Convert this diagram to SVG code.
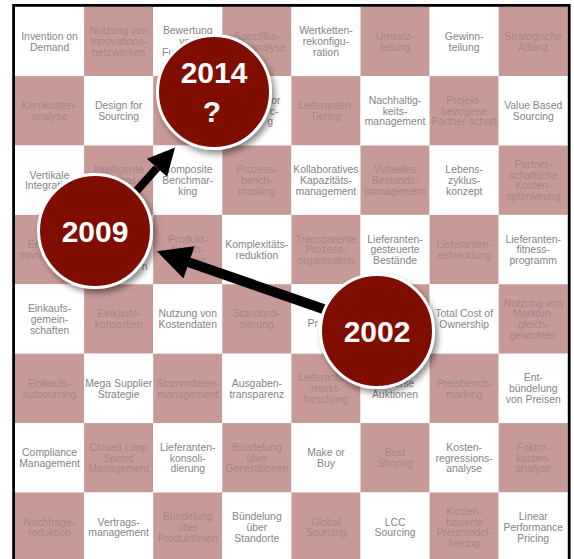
<svg xmlns="http://www.w3.org/2000/svg" width="574" height="559" viewBox="0 0 574 559">
<style>
.w{fill:#ffffff}
.p{fill:#C89A97}
text{font-family:"Liberation Sans",Arial,sans-serif;font-size:10.4px;text-anchor:middle}
.tw{fill:#858585}
.tp{fill:#A48684}
.yr{font-family:"Liberation Sans",Arial,sans-serif;font-weight:bold;font-size:30px;fill:#ffffff;text-anchor:middle}
.disc{fill:#7F0B02;stroke:#ffffff;stroke-width:3}
.arr{stroke:#000;fill:none;stroke-linecap:butt}
</style>
<defs>
<marker id="head" viewBox="0 0 10 10" refX="0" refY="5" markerWidth="3.8" markerHeight="3.4" orient="auto" markerUnits="strokeWidth">
<path d="M0,0 L10,5 L0,10 Z" fill="#000"/>
</marker>
<filter id="sh" x="-30%" y="-30%" width="170%" height="170%">
<feDropShadow dx="3" dy="4" stdDeviation="3" flood-color="#000" flood-opacity="0.45"/>
</filter>
</defs>
<rect x="0" y="0" width="574" height="559" fill="#ffffff"/>
<g id="grid">
<!-- row 0 -->
<g id="r0c0"><rect class="w" x="15" y="6.7" width="69.1" height="69.4"/><text class="tw" x="49.55" y="39.7">Invention on<tspan x="49.55" dy="10.8">Demand</tspan></text></g>
<g id="r0c1"><rect class="p" x="84.1" y="6.7" width="69.1" height="69.4"/><text class="tp" x="118.65" y="34.3">Nutzung von<tspan x="118.65" dy="10.8">Innovations-</tspan><tspan x="118.65" dy="10.8">netzwerken</tspan></text></g>
<g id="r0c2"><rect class="w" x="153.2" y="6.7" width="69.1" height="69.4"/><text class="tw" x="187.75" y="34.3">Bewertung<tspan x="187.75" dy="10.8">von</tspan><tspan x="187.75" dy="10.8">Funktionen</tspan></text></g>
<g id="r0c3"><rect class="p" x="222.3" y="6.7" width="69.1" height="69.4"/><text class="tp" x="256.85" y="39.7">Spezifika-<tspan x="256.85" dy="10.8">tionsanalyse</tspan></text></g>
<g id="r0c4"><rect class="w" x="291.4" y="6.7" width="69.1" height="69.4"/><text class="tw" x="325.95" y="34.3">Wertketten-<tspan x="325.95" dy="10.8">rekonfigu-</tspan><tspan x="325.95" dy="10.8">ration</tspan></text></g>
<g id="r0c5"><rect class="p" x="360.5" y="6.7" width="69.1" height="69.4"/><text class="tp" x="395.05" y="39.7">Umsatz-<tspan x="395.05" dy="10.8">teilung</tspan></text></g>
<g id="r0c6"><rect class="w" x="429.6" y="6.7" width="69.1" height="69.4"/><text class="tw" x="464.15" y="39.7">Gewinn-<tspan x="464.15" dy="10.8">teilung</tspan></text></g>
<g id="r0c7"><rect class="p" x="498.7" y="6.7" width="69.1" height="69.4"/><text class="tp" x="533.25" y="39.7">Strategische<tspan x="533.25" dy="10.8">Allianz</tspan></text></g>
<!-- row 1 -->
<g id="r1c0"><rect class="p" x="15" y="76.1" width="69.1" height="69.4"/><text class="tp" x="49.55" y="109.1">Kernkosten-<tspan x="49.55" dy="10.8">analyse</tspan></text></g>
<g id="r1c1"><rect class="w" x="84.1" y="76.1" width="69.1" height="69.4"/><text class="tw" x="118.65" y="109.1">Design for<tspan x="118.65" dy="10.8">Sourcing</tspan></text></g>
<g id="r1c2"><rect class="p" x="153.2" y="76.1" width="69.1" height="69.4"/></g>
<g id="r1c3"><rect class="w" x="222.3" y="76.1" width="69.1" height="69.4"/><text class="tw" style="text-anchor:end" x="280.5" y="103.7">or<tspan x="278.5" dy="10.8">c-</tspan><tspan x="273" dy="10.8">g</tspan></text></g>
<g id="r1c4"><rect class="p" x="291.4" y="76.1" width="69.1" height="69.4"/><text class="tp" x="325.95" y="109.1">Lieferanten-<tspan x="325.95" dy="10.8">Tiering</tspan></text></g>
<g id="r1c5"><rect class="w" x="360.5" y="76.1" width="69.1" height="69.4"/><text class="tw" x="395.05" y="103.7">Nachhaltig-<tspan x="395.05" dy="10.8">keits-</tspan><tspan x="395.05" dy="10.8">management</tspan></text></g>
<g id="r1c6"><rect class="p" x="429.6" y="76.1" width="69.1" height="69.4"/><text class="tp" x="464.15" y="103.7">Projekt-<tspan x="464.15" dy="10.8">bezogene</tspan><tspan x="464.15" dy="10.8">Partner-schaft</tspan></text></g>
<g id="r1c7"><rect class="w" x="498.7" y="76.1" width="69.1" height="69.4"/><text class="tw" x="533.25" y="109.1">Value Based<tspan x="533.25" dy="10.8">Sourcing</tspan></text></g>
<!-- row 2 -->
<g id="r2c0"><rect class="w" x="15" y="145.5" width="69.1" height="69.4"/><text class="tw" x="49.55" y="178.5">Vertikale<tspan x="49.55" dy="10.8">Integration</tspan></text></g>
<g id="r2c1"><rect class="p" x="84.1" y="145.5" width="69.1" height="69.4"/><text class="tp" x="118.65" y="173.1">Intelligente<tspan x="118.65" dy="10.8">Vertrags-</tspan><tspan x="118.65" dy="10.8">gestaltung</tspan></text></g>
<g id="r2c2"><rect class="w" x="153.2" y="145.5" width="69.1" height="69.4"/><text class="tw" x="187.75" y="173.1">Composite<tspan x="187.75" dy="10.8">Benchmar-</tspan><tspan x="187.75" dy="10.8">king</tspan></text></g>
<g id="r2c3"><rect class="p" x="222.3" y="145.5" width="69.1" height="69.4"/><text class="tp" x="256.85" y="173.1">Prozess-<tspan x="256.85" dy="10.8">bench-</tspan><tspan x="256.85" dy="10.8">marking</tspan></text></g>
<g id="r2c4"><rect class="w" x="291.4" y="145.5" width="69.1" height="69.4"/><text class="tw" x="325.95" y="173.1">Kollaboratives<tspan x="325.95" dy="10.8">Kapazitäts-</tspan><tspan x="325.95" dy="10.8">management</tspan></text></g>
<g id="r2c5"><rect class="p" x="360.5" y="145.5" width="69.1" height="69.4"/><text class="tp" x="395.05" y="173.1">Virtuelles<tspan x="395.05" dy="10.8">Bestands-</tspan><tspan x="395.05" dy="10.8">management</tspan></text></g>
<g id="r2c6"><rect class="w" x="429.6" y="145.5" width="69.1" height="69.4"/><text class="tw" x="464.15" y="173.1">Lebens-<tspan x="464.15" dy="10.8">zyklus-</tspan><tspan x="464.15" dy="10.8">konzept</tspan></text></g>
<g id="r2c7"><rect class="p" x="498.7" y="145.5" width="69.1" height="69.4"/><text class="tp" x="533.25" y="167.7">Partner-<tspan x="533.25" dy="10.8">schaftliche</tspan><tspan x="533.25" dy="10.8">Kosten-</tspan><tspan x="533.25" dy="10.8">optimierung</tspan></text></g>
<!-- row 3 -->
<g id="r3c0"><rect class="p" x="15" y="214.9" width="69.1" height="69.4"/><text class="tp" x="49.55" y="247.9">Engpass-<tspan x="49.55" dy="10.8">management</tspan></text></g>
<g id="r3c1"><rect class="w" x="84.1" y="214.9" width="69.1" height="69.4"/><text class="tw" style="text-anchor:end" x="147.5" y="270">n</text></g>
<g id="r3c2"><rect class="p" x="153.2" y="214.9" width="69.1" height="69.4"/><text class="tp" x="187.75" y="242.5">Produkt-<tspan x="187.75" dy="10.8">bench-</tspan><tspan x="187.75" dy="10.8">marking</tspan></text></g>
<g id="r3c3"><rect class="w" x="222.3" y="214.9" width="69.1" height="69.4"/><text class="tw" x="256.85" y="247.9">Komplexitäts-<tspan x="256.85" dy="10.8">reduktion</tspan></text></g>
<g id="r3c4"><rect class="p" x="291.4" y="214.9" width="69.1" height="69.4"/><text class="tp" x="325.95" y="242.5">Transparente<tspan x="325.95" dy="10.8">Prozess-</tspan><tspan x="325.95" dy="10.8">organisation</tspan></text></g>
<g id="r3c5"><rect class="w" x="360.5" y="214.9" width="69.1" height="69.4"/><text class="tw" x="395.05" y="242.5">Lieferanten-<tspan x="395.05" dy="10.8">gesteuerte</tspan><tspan x="395.05" dy="10.8">Bestände</tspan></text></g>
<g id="r3c6"><rect class="p" x="429.6" y="214.9" width="69.1" height="69.4"/><text class="tp" x="464.15" y="247.9">Lieferanten-<tspan x="464.15" dy="10.8">entwicklung</tspan></text></g>
<g id="r3c7"><rect class="w" x="498.7" y="214.9" width="69.1" height="69.4"/><text class="tw" x="533.25" y="242.5">Lieferanten-<tspan x="533.25" dy="10.8">fitness-</tspan><tspan x="533.25" dy="10.8">programm</tspan></text></g>
<!-- row 4 -->
<g id="r4c0"><rect class="w" x="15" y="284.3" width="69.1" height="69.4"/><text class="tw" x="49.55" y="311.9">Einkaufs-<tspan x="49.55" dy="10.8">gemein-</tspan><tspan x="49.55" dy="10.8">schaften</tspan></text></g>
<g id="r4c1"><rect class="p" x="84.1" y="284.3" width="69.1" height="69.4"/><text class="tp" x="118.65" y="317.3">Einkaufs-<tspan x="118.65" dy="10.8">konsortien</tspan></text></g>
<g id="r4c2"><rect class="w" x="153.2" y="284.3" width="69.1" height="69.4"/><text class="tw" x="187.75" y="317.3">Nutzung von<tspan x="187.75" dy="10.8">Kostendaten</tspan></text></g>
<g id="r4c3"><rect class="p" x="222.3" y="284.3" width="69.1" height="69.4"/><text class="tp" x="256.85" y="317.3">Standardi-<tspan x="256.85" dy="10.8">sierung</tspan></text></g>
<g id="r4c4"><rect class="w" x="291.4" y="284.3" width="69.1" height="69.4"/><text class="tw" style="text-anchor:start" x="307.5" y="327">Pr</text></g>
<g id="r4c5"><rect class="p" x="360.5" y="284.3" width="69.1" height="69.4"/></g>
<g id="r4c6"><rect class="w" x="429.6" y="284.3" width="69.1" height="69.4"/><text class="tw" x="464.15" y="317.3">Total Cost of<tspan x="464.15" dy="10.8">Ownership</tspan></text></g>
<g id="r4c7"><rect class="p" x="498.7" y="284.3" width="69.1" height="69.4"/><text class="tp" x="533.25" y="306.5">Nutzung von<tspan x="533.25" dy="10.8">Marktun-</tspan><tspan x="533.25" dy="10.8">gleich-</tspan><tspan x="533.25" dy="10.8">gewichten</tspan></text></g>
<!-- row 5 -->
<g id="r5c0"><rect class="p" x="15" y="353.7" width="69.1" height="69.4"/><text class="tp" x="49.55" y="386.7">Einkaufs-<tspan x="49.55" dy="10.8">outsourcing</tspan></text></g>
<g id="r5c1"><rect class="w" x="84.1" y="353.7" width="69.1" height="69.4"/><text class="tw" x="118.65" y="386.7">Mega Supplier<tspan x="118.65" dy="10.8">Strategie</tspan></text></g>
<g id="r5c2"><rect class="p" x="153.2" y="353.7" width="69.1" height="69.4"/><text class="tp" x="187.75" y="386.7">Stammdaten-<tspan x="187.75" dy="10.8">management</tspan></text></g>
<g id="r5c3"><rect class="w" x="222.3" y="353.7" width="69.1" height="69.4"/><text class="tw" x="256.85" y="386.7">Ausgaben-<tspan x="256.85" dy="10.8">transparenz</tspan></text></g>
<g id="r5c4"><rect class="p" x="291.4" y="353.7" width="69.1" height="69.4"/><text class="tp" x="325.95" y="381.3">Lieferanten-<tspan x="325.95" dy="10.8">markt-</tspan><tspan x="325.95" dy="10.8">forschung</tspan></text></g>
<g id="r5c5"><rect class="w" x="360.5" y="353.7" width="69.1" height="69.4"/><text class="tw" x="395.05" y="386.7">Reverse<tspan x="395.05" dy="10.8">Auktionen</tspan></text></g>
<g id="r5c6"><rect class="p" x="429.6" y="353.7" width="69.1" height="69.4"/><text class="tp" x="464.15" y="386.7">Preisbench-<tspan x="464.15" dy="10.8">marking</tspan></text></g>
<g id="r5c7"><rect class="w" x="498.7" y="353.7" width="69.1" height="69.4"/><text class="tw" x="533.25" y="381.3">Ent-<tspan x="533.25" dy="10.8">bündelung</tspan><tspan x="533.25" dy="10.8">von Preisen</tspan></text></g>
<!-- row 6 -->
<g id="r6c0"><rect class="w" x="15" y="423.1" width="69.1" height="69.4"/><text class="tw" x="49.55" y="456.1">Compliance<tspan x="49.55" dy="10.8">Management</tspan></text></g>
<g id="r6c1"><rect class="p" x="84.1" y="423.1" width="69.1" height="69.4"/><text class="tp" x="118.65" y="450.7">Closed Loop<tspan x="118.65" dy="10.8">Spend</tspan><tspan x="118.65" dy="10.8">Management</tspan></text></g>
<g id="r6c2"><rect class="w" x="153.2" y="423.1" width="69.1" height="69.4"/><text class="tw" x="187.75" y="450.7">Lieferanten-<tspan x="187.75" dy="10.8">konsoli-</tspan><tspan x="187.75" dy="10.8">dierung</tspan></text></g>
<g id="r6c3"><rect class="p" x="222.3" y="423.1" width="69.1" height="69.4"/><text class="tp" x="256.85" y="450.7">Bündelung<tspan x="256.85" dy="10.8">über</tspan><tspan x="256.85" dy="10.8">Generationen</tspan></text></g>
<g id="r6c4"><rect class="w" x="291.4" y="423.1" width="69.1" height="69.4"/><text class="tw" x="325.95" y="456.1">Make or<tspan x="325.95" dy="10.8">Buy</tspan></text></g>
<g id="r6c5"><rect class="p" x="360.5" y="423.1" width="69.1" height="69.4"/><text class="tp" x="395.05" y="456.1">Best<tspan x="395.05" dy="10.8">Shoring</tspan></text></g>
<g id="r6c6"><rect class="w" x="429.6" y="423.1" width="69.1" height="69.4"/><text class="tw" x="464.15" y="450.7">Kosten-<tspan x="464.15" dy="10.8">regressions-</tspan><tspan x="464.15" dy="10.8">analyse</tspan></text></g>
<g id="r6c7"><rect class="p" x="498.7" y="423.1" width="69.1" height="69.4"/><text class="tp" x="533.25" y="450.7">Faktor-<tspan x="533.25" dy="10.8">kosten-</tspan><tspan x="533.25" dy="10.8">analyse</tspan></text></g>
<!-- row 7 -->
<g id="r7c0"><rect class="p" x="15" y="492.5" width="69.1" height="69.4"/><text class="tp" x="49.55" y="525.5">Nachfrage-<tspan x="49.55" dy="10.8">reduktion</tspan></text></g>
<g id="r7c1"><rect class="w" x="84.1" y="492.5" width="69.1" height="69.4"/><text class="tw" x="118.65" y="525.5">Vertrags-<tspan x="118.65" dy="10.8">management</tspan></text></g>
<g id="r7c2"><rect class="p" x="153.2" y="492.5" width="69.1" height="69.4"/><text class="tp" x="187.75" y="520.1">Bündelung<tspan x="187.75" dy="10.8">über</tspan><tspan x="187.75" dy="10.8">Produktlinien</tspan></text></g>
<g id="r7c3"><rect class="w" x="222.3" y="492.5" width="69.1" height="69.4"/><text class="tw" x="256.85" y="520.1">Bündelung<tspan x="256.85" dy="10.8">über</tspan><tspan x="256.85" dy="10.8">Standorte</tspan></text></g>
<g id="r7c4"><rect class="p" x="291.4" y="492.5" width="69.1" height="69.4"/><text class="tp" x="325.95" y="525.5">Global<tspan x="325.95" dy="10.8">Sourcing</tspan></text></g>
<g id="r7c5"><rect class="w" x="360.5" y="492.5" width="69.1" height="69.4"/><text class="tw" x="395.05" y="525.5">LCC<tspan x="395.05" dy="10.8">Sourcing</tspan></text></g>
<g id="r7c6"><rect class="p" x="429.6" y="492.5" width="69.1" height="69.4"/><text class="tp" x="464.15" y="514.7">Kosten-<tspan x="464.15" dy="10.8">basierte</tspan><tspan x="464.15" dy="10.8">Preismodel-</tspan><tspan x="464.15" dy="10.8">lierung</tspan></text></g>
<g id="r7c7"><rect class="w" x="498.7" y="492.5" width="69.1" height="69.4"/><text class="tw" x="533.25" y="520.1">Linear<tspan x="533.25" dy="10.8">Performance</tspan><tspan x="533.25" dy="10.8">Pricing</tspan></text></g>
</g>
<rect id="frame" x="13.6" y="5.4" width="555.6" height="570" fill="none" stroke="#000" stroke-width="2.8"/>
<g id="connectors">
<line class="arr" x1="335" y1="313" x2="189" y2="262.4" stroke-width="10" marker-end="url(#head)"/>
<line class="arr" x1="132" y1="196" x2="157" y2="167.8" stroke-width="8" marker-end="url(#head)"/>
</g>
<g id="n2014"><circle class="disc" cx="214" cy="92" r="56.5" filter="url(#sh)"/><text class="yr" x="214" y="83">2014</text><text class="yr" x="212" y="122">?</text></g>
<g id="n2009"><circle class="disc" cx="95" cy="231" r="56.5" filter="url(#sh)"/><text class="yr" x="95" y="242">2009</text></g>
<g id="n2002"><circle class="disc" cx="377" cy="331" r="56.5" filter="url(#sh)"/><text class="yr" x="377" y="342">2002</text></g>
</svg>
